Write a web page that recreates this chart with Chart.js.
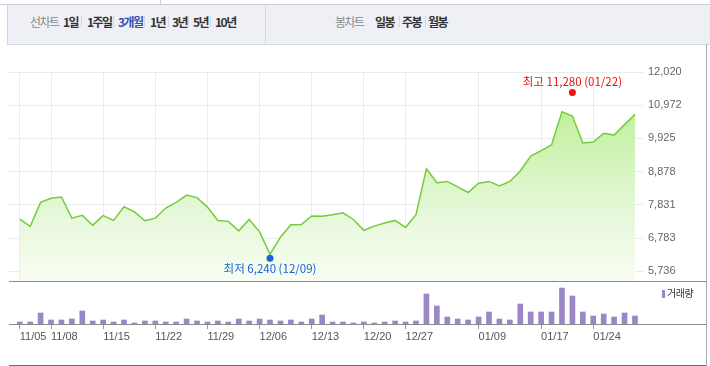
<!DOCTYPE html>
<html>
<head>
<meta charset="utf-8">
<script src="https://cdn.jsdelivr.net/npm/chart.js@4/dist/chart.umd.min.js"></script>
<style>
  body { margin:0; width:710px; height:366px; background:#fff; position:relative; overflow:hidden;
         font-family:"Noto Sans CJK KR","Noto Sans",sans-serif; }
  .abs { position:absolute; }
  .line { position:absolute; background:#c9cdd4; }
  .tab { position:absolute; top:13px; font-size:12px; line-height:17px; letter-spacing:-1.5px; white-space:nowrap; }
  .lbl { color:#8a8a8a; font-weight:normal; }
  .itm { color:#333; font-weight:bold; }
  .on  { color:#3552b5; font-weight:bold; }
  .sep { position:absolute; top:16px; width:1px; height:11px; background:#d3d6dc; }
  canvas { position:absolute; left:0; }
</style>
</head>
<body>

<!-- tab bar -->
<div class="line" style="left:0;top:4px;width:710px;height:1px;"></div>
<div class="line" style="left:160px;top:0;width:1px;height:4px;"></div>
<div class="abs" style="left:7px;top:5px;width:703px;height:39px;background:#eef0f5;border-left:1px solid #d3d7de;border-bottom:1px solid #d3d7de;"></div>
<div class="line" style="left:265px;top:5px;width:1px;height:39px;background:#d3d7de;"></div>

<span class="tab lbl" style="left:30px;">선차트</span>
<span class="tab itm" style="left:63px;">1일</span>
<div class="sep" style="left:81px;"></div>
<span class="tab itm" style="left:87px;">1주일</span>
<div class="sep" style="left:113px;"></div>
<span class="tab on" style="left:118px;">3개월</span>
<div class="sep" style="left:144px;"></div>
<span class="tab itm" style="left:150px;">1년</span>
<div class="sep" style="left:168px;"></div>
<span class="tab itm" style="left:172px;">3년</span>
<div class="sep" style="left:188px;"></div>
<span class="tab itm" style="left:193px;">5년</span>
<div class="sep" style="left:210px;"></div>
<span class="tab itm" style="left:215px;">10년</span>

<span class="tab lbl" style="left:335px;">봉차트</span>
<span class="tab itm" style="left:375px;">일봉</span>
<div class="sep" style="left:399px;"></div>
<span class="tab itm" style="left:402px;">주봉</span>
<div class="sep" style="left:425px;"></div>
<span class="tab itm" style="left:428px;">월봉</span>

<canvas id="priceChart" width="710" height="232" style="top:50px;"></canvas>
<canvas id="volChart" width="710" height="84" style="top:282px;"></canvas>

<!-- frame lines -->
<div class="line" style="left:9px;top:281px;width:697px;height:1px;background:#868b94;"></div>
<div class="line" style="left:9px;top:324px;width:697px;height:1px;background:#8c8c8c;"></div>
<div class="line" style="left:9px;top:365px;width:697px;height:1px;background:#707070;"></div>
<div class="line" style="left:706px;top:44px;width:1px;height:322px;background:#a8a8a8;"></div>

<!-- volume legend -->
<div class="abs" style="left:662px;top:290px;width:3px;height:8px;background:#9b86c8;"></div>
<span class="abs" style="left:667px;top:286px;font-size:10px;line-height:14px;color:#333;letter-spacing:-0.5px;">거래량</span>

<script>
/* =========================================================
   DATA
========================================================= */

const dates = [
  "11/05","11/06","11/07","11/08","11/11","11/12","11/13","11/14","11/15","11/18",
  "11/19","11/20","11/21","11/22","11/25","11/26","11/27","11/28","11/29",
  "12/02","12/03","12/04","12/05","12/06","12/09","12/10","12/11","12/12","12/13",
  "12/16","12/17","12/18","12/19","12/20","12/23","12/24","12/26","12/27","12/30",
  "01/02","01/03","01/06","01/07","01/08","01/09","01/10","01/13","01/14","01/15",
  "01/16","01/17","01/20","01/21","01/22","01/23","01/24","01/28","01/29","01/30","01/31"
];

const closes = [
  7380, 7150, 7910, 8040, 8080, 7410, 7500, 7190, 7490, 7340,
  7770, 7610, 7330, 7410, 7730, 7910, 8140, 8060, 7760, 7340,
  7310, 7010, 7370, 6980, 6270, 6810, 7200, 7210, 7480, 7470,
  7520, 7580, 7370, 7030, 7160, 7260, 7340, 7120, 7520, 8970,
  8530, 8570, 8400, 8220, 8510, 8570, 8430, 8570, 8900, 9370,
  9540, 9720, 10770, 10630, 9780, 9810, 10090, 10030, 10360, 10690
];

const volumes = [
  100000, 100000, 550000, 200000, 200000, 250000, 650000, 150000, 200000, 100000,
  200000,  50000, 150000, 150000, 100000, 100000, 250000, 150000, 100000, 150000,
  100000, 250000, 150000, 250000, 200000, 150000, 200000, 100000, 250000, 450000,
  100000, 100000,  50000, 100000,  50000, 100000, 150000, 100000, 150000, 1500000,
  900000, 350000, 250000, 200000, 350000, 600000, 250000, 200000, 1000000, 600000,
  600000, 600000, 1800000, 1400000, 600000, 400000, 500000, 350000, 550000, 400000
];

const priceTicks = [12020, 10972, 9925, 8878, 7831, 6783, 5736];

const dateTicks = [
  "11/05","11/08","11/15","11/22","11/29","12/06",
  "12/13","12/20","12/27","01/09","01/17","01/24"
];

const highMark = { date:"01/22", value:11280, label:"최고 11,280 (01/22)" };
const lowMark  = { date:"12/09", value:6240,  label:"최저 6,240 (12/09)" };

/* =========================================================
   SHARED
========================================================= */

const xMin = -1.03;
const xMax = 59.77;

const tickIdx =
  dateTicks.map(d => dates.indexOf(d));

const fmt =
  v => Number(v).toLocaleString("en-US");

function noPad(s){
  s.paddingLeft = 0;
  s.paddingRight = 0;
  s.paddingTop = 0;
  s.paddingBottom = 0;
}

/* =========================================================
   MARKS PLUGIN
========================================================= */

const marksPlugin = {
  id:"marks",
  afterDatasetsDraw(chart){
    const c = chart.ctx;
    const xs = chart.scales.x;
    const ys = chart.scales.y;
    const draw = (m, color, dir) => {
      const x = xs.getPixelForValue(dates.indexOf(m.date));
      const y = ys.getPixelForValue(m.value) + dir * 3;
      c.save();
      c.fillStyle = color;
      c.beginPath();
      c.arc(x, y, 3.5, 0, Math.PI * 2);
      c.fill();
      c.font = "11.5px 'Noto Sans CJK KR'";
      c.textAlign = "center";
      c.textBaseline = "middle";
      c.fillText(m.label, x, y + dir * 10.5);
      c.restore();
    };
    draw(highMark, "#f01010", -1);
    draw(lowMark, "#1a63d6", 1);
  }
};

/* =========================================================
   PRICE CHART
========================================================= */

new Chart(document.getElementById("priceChart"), {
  type:"line",
  data:{
    datasets:[{
      data: closes.map((v, i) => ({ x:i, y:v })),
      borderColor:"#74cc3a",
      borderWidth:1.5,
      pointRadius:0,
      tension:0,
      fill:"start",
      backgroundColor:(ctx) => {
        const a = ctx.chart.chartArea;
        if(!a) return "#def6c9";
        const g = ctx.chart.ctx.createLinearGradient(0, a.top, 0, a.bottom);
        g.addColorStop(0, "#b6ed88");
        g.addColorStop(0.2, "#c2f09e");
        g.addColorStop(0.63, "#e3f7d5");
        g.addColorStop(1, "#f8fdf4");
        return g;
      }
    }]
  },
  options:{
    responsive:false,
    animation:false,
    layout:{ padding:{ left:9, top:22, right:0, bottom:0 } },
    plugins:{ legend:{ display:false }, tooltip:{ enabled:false } },
    scales:{
      x:{
        type:"linear",
        min:xMin,
        max:xMax,
        offset:false,
        afterBuildTicks:s => { s.ticks = tickIdx.map(v => ({ value:v })); },
        afterFit:s => { s.height = 0; noPad(s); },
        ticks:{ display:false },
        grid:{ color:"#ebebeb", drawTicks:false, offset:false },
        border:{ display:false }
      },
      y:{
        position:"right",
        min:5398,
        max:12020,
        afterBuildTicks:s => { s.ticks = priceTicks.map(v => ({ value:v })); },
        afterFit:s => { s.width = 67; noPad(s); },
        ticks:{
          padding:5,
          color:"#666",
          font:{ family:"'Liberation Sans', Arial", size:11 },
          callback:v => fmt(v)
        },
        grid:{ color:"#ebebeb", drawTicks:false },
        border:{ display:false }
      }
    }
  },
  plugins:[marksPlugin]
});

/* =========================================================
   VOLUME CHART
========================================================= */

new Chart(document.getElementById("volChart"), {
  type:"bar",
  data:{
    datasets:[{
      data: volumes.map((v, i) => ({ x:i, y:v })),
      backgroundColor:"#9b86c8",
      barThickness:5
    }]
  },
  options:{
    responsive:false,
    animation:false,
    layout:{ padding:{ left:9, top:0, right:67, bottom:0 } },
    plugins:{ legend:{ display:false }, tooltip:{ enabled:false } },
    scales:{
      x:{
        type:"linear",
        min:xMin,
        max:xMax,
        offset:false,
        afterBuildTicks:s => { s.ticks = tickIdx.map(v => ({ value:v })); },
        afterFit:s => { s.height = 42; noPad(s); },
        ticks:{
          align:"start",
          autoSkip:false,
          maxRotation:0,
          padding:1,
          color:"#555",
          font:{ family:"'Liberation Sans', Arial", size:11 },
          callback:v => dates[v]
        },
        grid:{ drawOnChartArea:false, drawTicks:true, tickLength:5, color:"#999", offset:false },
        border:{ display:false }
      },
      y:{
        display:false,
        min:0,
        max:2100000
      }
    }
  }
});
</script>
</body>
</html>
